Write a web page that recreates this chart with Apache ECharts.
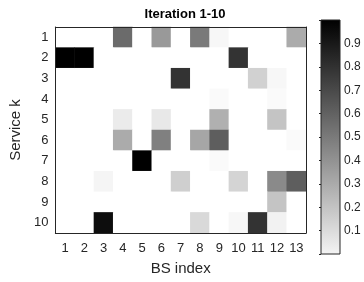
<!DOCTYPE html>
<html>
<head>
<meta charset="utf-8">
<script src="https://cdn.jsdelivr.net/npm/echarts@6/dist/echarts.min.js"></script>
<style>
  html, body { margin: 0; padding: 0; background: #fff; }
  #main { width: 364px; height: 282px; }
</style>
</head>
<body>
<div id="main"></div>
<script>
// axis categories
var bsIndex = ['1','2','3','4','5','6','7','8','9','10','11','12','13'];
var services = ['1','2','3','4','5','6','7','8','9','10'];
// colorbar ticks
var cbTicks = [0.1, 0.2, 0.3, 0.4, 0.5, 0.6, 0.7, 0.8, 0.9];

// one row per service k, one value per BS index
var row1  = [0, 0, 0,    0.58, 0, 0.40, 0,    0.52, 0.03, 0,    0,    0,    0.33];
var row2  = [1, 1, 0,    0,    0, 0,    0,    0,    0,    0.80, 0,    0,    0];
var row3  = [0, 0, 0,    0,    0, 0,    0.80, 0,    0,    0,    0.18, 0.03, 0];
var row4  = [0, 0, 0,    0,    0, 0,    0,    0,    0.02, 0,    0,    0.02, 0];
var row5  = [0, 0, 0,    0.08, 0, 0.09, 0,    0,    0.31, 0,    0,    0.23, 0];
var row6  = [0, 0, 0,    0.33, 0, 0.50, 0,    0.35, 0.63, 0,    0,    0,    0.02];
var row7  = [0, 0, 0,    0,    1, 0,    0,    0,    0.02, 0,    0,    0,    0];
var row8  = [0, 0, 0.04, 0,    0, 0,    0.19, 0,    0,    0.17, 0,    0.46, 0.63];
var row9  = [0, 0, 0,    0,    0, 0,    0,    0,    0,    0,    0,    0.23, 0];
var row10 = [0, 0, 0.95, 0,    0, 0,    0,    0.15, 0,    0.03, 0.80, 0.05, 0];
var rows = [row1, row2, row3, row4, row5, row6, row7, row8, row9, row10];

var cells = [];
rows.forEach(function (r, k) {
  r.forEach(function (v, b) {
    cells.push([b, k, v]);
  });
});

var ink = '#262626';
var font = 'Liberation Sans';

var chart = echarts.init(document.getElementById('main'));
chart.setOption({
  animation: false,
  textStyle: { fontFamily: font },
  title: {
    text: 'Iteration 1-10',
    left: 180,
    top: 3,
    textAlign: 'center',
    textStyle: { fontSize: 13, fontWeight: 'bold', color: '#000', fontFamily: font }
  },
  grid: [
    { left: 55, top: 27, width: 251, height: 206, show: false },
    {
      left: 321, top: 20, width: 19, height: 234, show: true,
      borderColor: ink, borderWidth: 1,
      backgroundColor: {
        type: 'linear', x: 0, y: 0, x2: 0, y2: 1,
        colorStops: [{ offset: 0, color: '#000000' }, { offset: 1, color: '#f4f4f4' }]
      }
    }
  ],
  xAxis: [
    {
      type: 'category', gridIndex: 0, data: bsIndex, position: 'bottom', z: 5,
      axisLine: { lineStyle: { color: ink, width: 1 } },
      axisTick: { inside: true, alignWithLabel: true, length: 3, lineStyle: { color: ink } },
      axisLabel: { color: ink, fontSize: 13, margin: 9 },
      name: 'BS index', nameLocation: 'middle', nameGap: 28,
      nameTextStyle: { color: ink, fontSize: 15 }
    },
    {
      type: 'category', gridIndex: 0, data: bsIndex, position: 'top', z: 5,
      axisLine: { lineStyle: { color: ink, width: 1 } },
      axisTick: { inside: true, alignWithLabel: true, length: 3, lineStyle: { color: ink } },
      axisLabel: { show: false }
    },
    {
      type: 'value', gridIndex: 1, min: 0, max: 1, show: false
    }
  ],
  yAxis: [
    {
      type: 'category', gridIndex: 0, data: services, inverse: true, z: 5,
      axisLine: { lineStyle: { color: ink, width: 1 } },
      axisTick: { inside: true, alignWithLabel: true, length: 3, lineStyle: { color: ink } },
      axisLabel: { color: ink, fontSize: 13, margin: 7 },
      name: 'Service k', nameLocation: 'middle', nameGap: 29, nameRotate: 90,
      nameTextStyle: { color: ink, fontSize: 15 }
    },
    {
      type: 'category', gridIndex: 0, data: services, inverse: true, position: 'right', z: 5,
      axisLine: { lineStyle: { color: ink, width: 1 } },
      axisTick: { inside: true, alignWithLabel: true, length: 3, lineStyle: { color: ink } },
      axisLabel: { show: false }
    },
    {
      type: 'value', gridIndex: 1, min: 0, max: 1, interval: 0.1, position: 'right', z: 5,
      axisLine: { show: false },
      splitLine: { show: false },
      axisTick: { inside: true, length: 2, lineStyle: { color: ink } },
      axisLabel: {
        color: ink, fontSize: 12, margin: 4,
        formatter: function (v) {
          var t = Math.round(v * 10) / 10;
          return cbTicks.indexOf(t) >= 0 ? String(t) : '';
        }
      }
    }
  ],
  visualMap: {
    show: false,
    min: 0,
    max: 1,
    seriesIndex: 0,
    inRange: { color: ['#ffffff', '#000000'] }
  },
  series: [
    {
      type: 'heatmap',
      xAxisIndex: 0,
      yAxisIndex: 0,
      data: cells,
      itemStyle: { borderWidth: 0 },
      emphasis: { disabled: true }
    }
  ]
});
</script>
</body>
</html>
